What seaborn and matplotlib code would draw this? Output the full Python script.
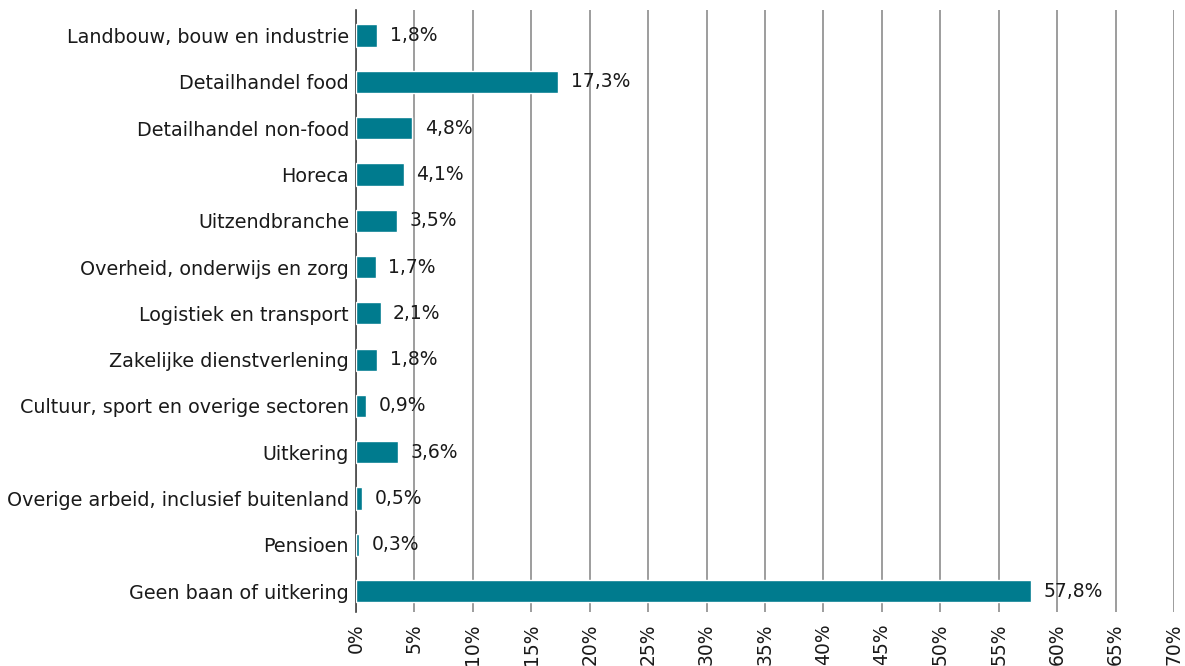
import pandas as pd
import seaborn as sns
import matplotlib.pyplot as plt
from matplotlib.ticker import FuncFormatter

# data
sectors = ['Landbouw, bouw en industrie', 'Detailhandel food', 'Detailhandel non-food',
           'Horeca', 'Uitzendbranche', 'Overheid, onderwijs en zorg',
           'Logistiek en transport', 'Zakelijke dienstverlening',
           'Cultuur, sport en overige sectoren', 'Uitkering',
           'Overige arbeid, inclusief buitenland', 'Pensioen', 'Geen baan of uitkering']
shares = [1.8, 17.3, 4.8, 4.1, 3.5, 1.7, 2.1, 1.8, 0.9, 3.6, 0.5, 0.3, 57.8]
xticks = list(range(0, 75, 5))

df = pd.DataFrame({'sector': sectors, 'share': shares})

sns.set_style('white')
plt.rcParams['font.family'] = ['DejaVu Sans']

fig = plt.figure(figsize=(11.85, 6.66), dpi=100)
ax = fig.add_axes([0.3004, 0.081, 0.6903, 0.904])

sns.barplot(data=df, x='share', y='sector', orient='h', color='#007B8E',
            width=0.48, saturation=1, ax=ax, zorder=3)

ax.set_xlim(0, 70)
ax.set_ylim(12.45, -0.55)
ax.set_xticks(xticks)
ax.xaxis.set_major_formatter(FuncFormatter(lambda v, p: f'{v:.0f}%'))
ax.grid(axis='x', color='#8c8c8c', linewidth=1.2, zorder=0)
ax.tick_params(axis='x', labelrotation=90, labelsize=13.5, length=0, pad=8, labelcolor='#1a1a1a')
ax.tick_params(axis='y', labelsize=13.8, length=0, pad=5, labelcolor='#1a1a1a')
ax.set_xlabel('')
ax.set_ylabel('')
for s in ['top', 'right', 'bottom']:
    ax.spines[s].set_visible(False)
ax.spines['left'].set_color('#444444')
ax.spines['left'].set_linewidth(1.2)

labels = [f'{v:.1f}%'.replace('.', ',') for v in shares]
ax.bar_label(ax.containers[0], labels=labels, padding=9, fontsize=13.5, color='#1a1a1a')

fig.savefig('out.png', dpi=100)
